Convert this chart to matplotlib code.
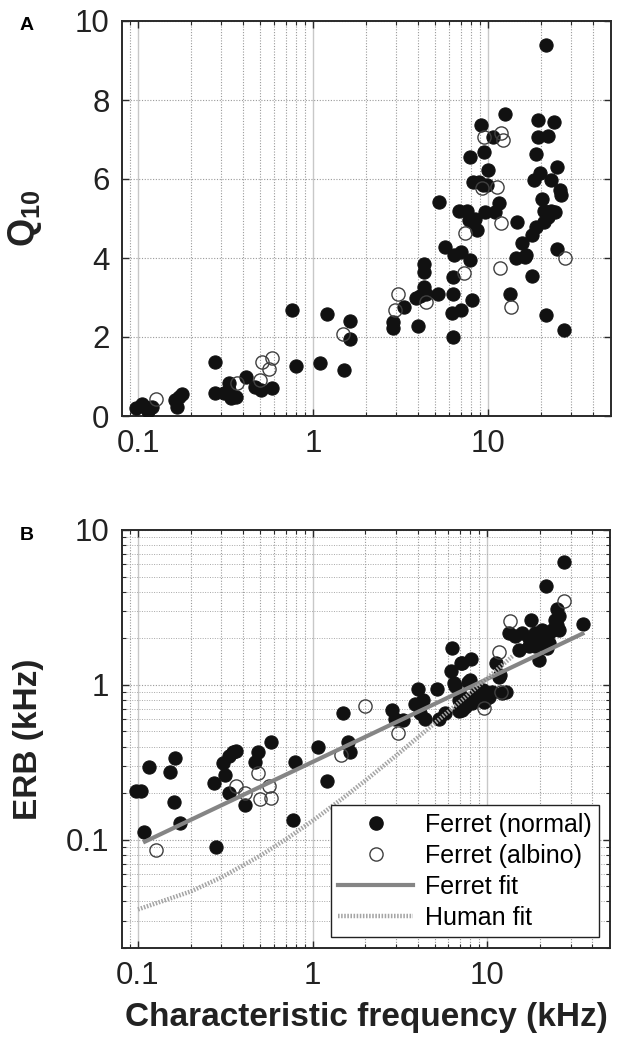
import matplotlib
matplotlib.use("Agg")
import matplotlib.pyplot as plt
from matplotlib.ticker import LogLocator, FixedLocator, NullFormatter, FixedFormatter
from matplotlib.lines import Line2D

plt.rcParams['font.family'] = ['Liberation Sans', 'DejaVu Sans']
plt.rcParams['mathtext.fontset'] = 'custom'
plt.rcParams['mathtext.rm'] = 'Liberation Sans'
plt.rcParams['mathtext.bf'] = 'Liberation Sans:bold'

# ---------------- Panel A: Q10 vs CF ----------------
a_normal_cf = [0.098, 0.105, 0.110, 0.114, 0.120, 0.163, 0.166, 0.172, 0.178, 0.277,
               0.274, 0.310, 0.329, 0.330, 0.340, 0.365, 0.414, 0.466, 0.505, 0.583,
               0.76, 0.80, 1.09, 1.21, 1.50, 1.63, 1.62, 2.87, 2.87, 3.30,
               4.0, 3.86, 4.1, 4.3, 4.3, 4.3, 4.4, 5.15, 5.28, 5.66,
               6.28, 6.2, 6.28, 6.28, 6.4, 6.98, 7.06, 6.85, 7.6, 7.9,
               7.93, 8.1, 7.8, 8.4, 8.7, 8.2, 8.9, 9.1, 9.5, 9.6,
               9.4, 10.0, 9.9, 10.7, 11.0, 11.6, 12.5, 13.3, 14.6, 14.5,
               15.6, 16.2, 17.8, 17.8, 18.9, 19.4, 18.7, 18.4, 19.4, 22.0,
               19.9, 20.4, 21.5, 21.0, 22.0, 22.8, 21.5, 21.0, 24.0, 23.0,
               24.2, 24.8, 24.8, 25.8, 26.0, 27.3, 16.5, 8.2]
a_normal_q = [0.20, 0.30, 0.22, 0.13, 0.22, 0.41, 0.24, 0.48, 0.56, 1.37,
              0.59, 0.57, 0.83, 0.66, 0.45, 0.49, 1.00, 0.74, 0.67, 0.72,
              2.68, 1.27, 1.35, 2.59, 1.16, 2.40, 1.96, 2.39, 2.22, 2.77,
              2.28, 3.00, 3.05, 3.86, 3.65, 3.27, 3.10, 3.10, 5.42, 4.28,
              2.00, 2.60, 3.10, 3.52, 4.07, 4.16, 2.68, 5.20, 5.20, 6.56,
              3.95, 2.93, 4.95, 5.00, 4.70, 5.93, 5.93, 7.36, 6.69, 5.17,
              5.84, 6.22, 5.84, 7.07, 5.17, 5.38, 7.65, 3.10, 4.92, 3.99,
              4.38, 4.03, 4.58, 3.55, 4.79, 7.50, 6.64, 5.97, 7.07, 7.10,
              6.15, 5.50, 9.38, 5.20, 5.04, 5.20, 2.55, 4.90, 7.45, 5.97,
              5.17, 6.30, 4.24, 5.72, 5.59, 2.17, 4.07, 4.92]

a_albino_cf = [0.126, 0.366, 0.50, 0.51, 0.56, 0.58, 1.49, 2.95, 3.07, 4.4,
               7.3, 7.4, 9.2, 9.5, 11.3, 11.7, 11.9, 11.9, 12.2, 13.6, 27.6]
a_albino_q = [0.43, 0.83, 0.91, 1.36, 1.20, 1.46, 2.07, 2.68, 3.10, 2.89,
              3.63, 4.63, 5.76, 7.07, 5.80, 3.74, 4.89, 7.16, 6.99, 2.77, 3.99]

# ---------------- Panel B: ERB vs CF ----------------
b_normal_cf = [0.097, 0.104, 0.108, 0.116, 0.153, 0.164, 0.160, 0.175, 0.274, 0.281,
               0.307, 0.315, 0.330, 0.350, 0.363, 0.330, 0.410, 0.466, 0.490, 0.575,
               0.790, 0.770, 1.07, 1.21, 1.50, 1.59, 1.63, 2.86, 2.96, 3.30,
               4.0, 3.86, 4.3, 4.1, 4.4, 5.15, 5.28, 5.70, 6.28, 6.2,
               6.5, 6.85, 7.06, 7.06, 8.1, 7.2, 7.8, 6.45, 8.0, 6.9,
               7.5, 7.9, 8.6, 9.0, 9.4, 9.8, 10.2, 10.7, 7.2, 8.2,
               9.6, 12.2, 12.8, 11.7, 11.2, 11.9, 13.4, 14.5, 15.8, 17.4,
               18.9, 20.6, 22.5, 17.4, 22.5, 20.6, 15.3, 18.9, 19.7, 21.9,
               25.0, 25.1, 25.7, 24.5, 23.4, 25.7, 17.8, 27.6, 21.6, 35.4]
b_normal_erb = [0.206, 0.206, 0.112, 0.294, 0.275, 0.339, 0.176, 0.129, 0.231, 0.090,
                0.313, 0.260, 0.347, 0.366, 0.376, 0.200, 0.167, 0.316, 0.366, 0.428,
                0.316, 0.135, 0.396, 0.238, 0.658, 0.428, 0.366, 0.686, 0.60, 0.59,
                0.94, 0.75, 0.80, 0.66, 0.60, 0.94, 0.60, 0.66, 1.74, 1.22,
                0.99, 0.68, 0.85, 1.39, 1.47, 1.38, 1.05, 1.03, 1.08, 0.80,
                0.72, 0.80, 0.88, 0.84, 0.93, 0.88, 0.84, 0.90, 0.69, 0.76,
                0.78, 0.88, 0.90, 1.13, 1.38, 1.15, 2.17, 2.06, 2.17, 2.01,
                2.17, 2.27, 2.17, 1.77, 1.86, 1.98, 1.69, 1.77, 1.45, 1.74,
                2.45, 3.07, 2.78, 2.64, 2.27, 2.27, 2.64, 6.20, 4.35, 2.49]

b_albino_cf = [0.126, 0.366, 0.41, 0.49, 0.50, 0.58, 0.56, 1.46, 2.0, 3.07,
               9.6, 11.7, 12.0, 13.5, 27.6]
b_albino_erb = [0.086, 0.222, 0.200, 0.270, 0.184, 0.185, 0.224, 0.35, 0.73, 0.486,
                0.705, 1.62, 0.90, 2.58, 3.47]

# fit lines
ferret_fit_cf = [0.107, 36.0]
ferret_fit_erb = [0.096, 2.17]
human_fit_cf = [0.1, 0.2, 0.3, 0.5, 0.7, 1.0, 1.5, 2.0, 3.0, 5.0, 7.0, 10.0, 14.0]
human_fit_erb = [0.0355, 0.0463, 0.0571, 0.0787, 0.1003, 0.1326, 0.1866, 0.2406,
                 0.3485, 0.5644, 0.7803, 1.104, 1.536]

legend_labels = ['Ferret (normal)', 'Ferret (albino)', 'Ferret fit', 'Human fit']
a_yticks = [0, 2, 4, 6, 8, 10]
x_ticks = [0.1, 1, 10]
x_ticklabels = ['0.1', '1', '10']
b_yticks = [0.1, 1, 10]
b_yticklabels = ['0.1', '1', '10']

# ---------------- styling ----------------
W, H = 622, 1050
fig = plt.figure(figsize=(W / 100, H / 100), dpi=100)
axA = fig.add_axes([122 / W, 1 - 416 / H, 489 / W, 395 / H])
axB = fig.add_axes([122 / W, 1 - 948 / H, 488 / W, 418 / H])

spine_col = '#2a2a2a'
tick_fs = 22.5
fill_col = '#111111'
open_col = '#404040'
ms = 9.5
fit_col = '#858585'
human_col = '#a5a5a5'

x_minor = [0.09] + [k * 0.1 for k in range(2, 10)] + list(range(2, 10)) + [20, 30, 40]


def style_common(ax):
    ax.set_xscale('log')
    ax.set_xlim(0.081, 50.5)
    ax.xaxis.set_major_locator(FixedLocator(x_ticks))
    ax.xaxis.set_major_formatter(FixedFormatter(x_ticklabels))
    ax.xaxis.set_minor_locator(FixedLocator(x_minor))
    ax.xaxis.set_minor_formatter(NullFormatter())
    for s in ax.spines.values():
        s.set_color(spine_col)
        s.set_linewidth(1.4)
    ax.tick_params(which='both', direction='in', top=True, right=True,
                   colors=spine_col, labelcolor='#222222')
    ax.tick_params(which='major', length=5, width=1.0, labelsize=tick_fs, pad=9)
    ax.tick_params(which='minor', length=3, width=0.8)
    ax.set_axisbelow(True)
    ax.grid(True, which='major', axis='x', color='#c8c8c8', linestyle='-', linewidth=1.0)
    ax.grid(True, which='minor', axis='x', color='#9a9a9a', linestyle=(0, (1, 1.5)), linewidth=0.8)


# ---- Panel A ----
style_common(axA)
axA.set_ylim(0, 10)
axA.yaxis.set_major_locator(FixedLocator(a_yticks))
axA.grid(True, which='major', axis='y', color='#9a9a9a', linestyle=(0, (1, 1.5)), linewidth=0.8)
axA.plot(a_normal_cf, a_normal_q, 'o', ms=ms, mfc=fill_col, mec=fill_col, mew=0.8, zorder=3)
axA.plot(a_albino_cf, a_albino_q, 'o', ms=ms, mfc='none', mec=open_col, mew=1.0, zorder=4)
axA.set_ylabel(r'$\mathbf{Q}_{\mathbf{10}}$', fontsize=26, color='#222222')
axA.yaxis.set_label_coords(-0.16, 0.5)

# ---- Panel B ----
style_common(axB)
axB.set_yscale('log')
axB.set_ylim(0.02, 10)
axB.yaxis.set_major_locator(FixedLocator(b_yticks))
axB.yaxis.set_major_formatter(FixedFormatter(b_yticklabels))
axB.yaxis.set_minor_locator(LogLocator(base=10, subs=range(2, 10)))
axB.yaxis.set_minor_formatter(NullFormatter())
axB.grid(True, which='major', axis='y', color='#9a9a9a', linestyle=(0, (1, 1.5)), linewidth=0.8)
axB.grid(True, which='minor', axis='y', color='#a8a8a8', linestyle=(0, (1, 1.5)), linewidth=0.7)

axB.plot(b_normal_cf, b_normal_erb, 'o', ms=ms, mfc=fill_col, mec=fill_col, mew=0.8, zorder=3)
axB.plot(b_albino_cf, b_albino_erb, 'o', ms=ms, mfc='none', mec=open_col, mew=1.0, zorder=4)
axB.plot(ferret_fit_cf, ferret_fit_erb, '-', color=fit_col, lw=3.0, zorder=5,
         solid_capstyle='butt')
axB.plot(human_fit_cf, human_fit_erb, color=human_col, lw=3.2, linestyle=(0, (0.35, 0.35)),
         zorder=5)
axB.set_ylabel('ERB (kHz)', fontsize=24, fontweight='bold', color='#222222')
axB.yaxis.set_label_coords(-0.16, 0.5)
axB.set_xlabel('Characteristic frequency (kHz)', fontsize=24, fontweight='bold',
               color='#222222', labelpad=8)

handles = [
    Line2D([], [], marker='o', ls='none', ms=ms, mfc=fill_col, mec=fill_col),
    Line2D([], [], marker='o', ls='none', ms=ms, mfc='none', mec=open_col, mew=1.0),
    Line2D([], [], color=fit_col, lw=3.0),
    Line2D([], [], color=human_col, lw=3.2, linestyle=(0, (0.35, 0.35))),
]
leg = axB.legend(handles, legend_labels, loc='lower right', bbox_to_anchor=(0.977, 0.026),
                 borderaxespad=0, fontsize=18, frameon=True, fancybox=False,
                 edgecolor='#222222', framealpha=1, handlelength=3.0, handletextpad=0.45,
                 labelspacing=0.28, borderpad=0.3)
leg.get_frame().set_linewidth(1.0)
leg.set_zorder(10)

fig.text(27 / W, 1 - 25 / H, 'A', fontsize=14, fontweight='bold', ha='center', va='center')
fig.text(27 / W, 1 - 535 / H, 'B', fontsize=14, fontweight='bold', ha='center', va='center')

fig.savefig('out.png', dpi=100)
